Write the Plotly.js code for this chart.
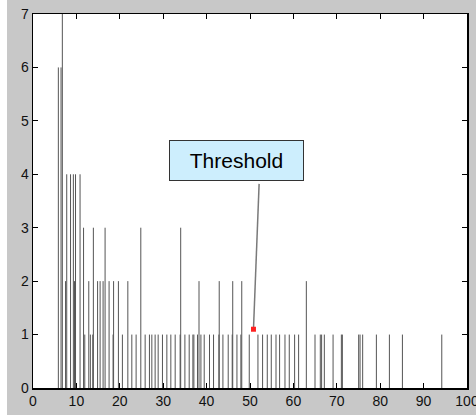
<!DOCTYPE html>
<html>
<head>
<meta charset="utf-8">
<script src="https://cdn.plot.ly/plotly-3.0.1.min.js"></script>
<style>
  html, body { margin: 0; padding: 0; background: #ffffff; overflow: hidden; }
  #chart { position: absolute; left: 7px; top: 0; width: 469px; height: 415px; }
</style>
</head>
<body>
<div id="chart"></div>
<script>
// Stem positions (x) and their counts (y)
const stemX = [
  5.84, 6.46, 6.76,
  7.77, 8.65, 9.30, 9.80, 10.84,
  11.65, 13.91, 16.61, 24.84, 34.03,
  7.50, 9.57, 12.85, 14.88, 15.46, 16.15, 17.53, 18.57, 19.68, 21.85,
  38.25, 42.91, 46.02, 48.10, 62.98,
  11.93, 13.22, 13.77, 18.45, 20.60, 22.77, 23.76, 25.84, 26.83, 27.38,
  28.14, 28.84, 29.83, 30.84, 31.76, 32.76, 33.90, 35.00, 35.99, 36.84,
  37.07, 37.90, 38.69, 39.45, 40.67, 41.60, 42.83, 43.76, 44.98, 45.90,
  46.99, 47.90, 49.83, 51.83, 52.90, 53.98, 54.90, 55.99, 56.82, 58.06,
  59.05, 60.28, 61.20, 64.98, 66.20, 66.50, 67.13, 69.14, 71.05, 71.28,
  75.04, 75.36, 75.96, 79.12, 82.12, 85.12, 94.19
];
const stemY = [
  6, 6, 7,
  4, 4, 4, 4, 4,
  3, 3, 3, 3, 3,
  2, 2, 2, 2, 2, 2, 2, 2, 2, 2,
  2, 2, 2, 2, 2,
  1, 1, 1, 1, 1, 1, 1, 1, 1, 1,
  1, 1, 1, 1, 1, 1, 1, 1, 1, 1,
  1, 1, 1, 1, 1, 1, 1, 1, 1, 1,
  1, 1, 1, 1, 1, 1, 1, 1, 1, 1,
  1, 1, 1, 1, 1, 1, 1, 1, 1, 1,
  1, 1, 1, 1, 1, 1, 1
];
const xTicks = [0, 10, 20, 30, 40, 50, 60, 70, 80, 90, 100];
const yTicks = [0, 1, 2, 3, 4, 5, 6, 7];

// Annotation: label position, arrow tail and tip
const labelText = 'Threshold';
const labelPos = [46.8, 4.26];
const arrowX = [52.1, 50.8];
const arrowY = [3.82, 1.1];
const markX = [50.8];
const markY = [1.1];

const sx = [], sy = [];
stemX.forEach((x, i) => { sx.push(x, x, null); sy.push(0, stemY[i], null); });

const traces = [
  { type: 'scatter', mode: 'lines', x: sx, y: sy,
    line: { color: '#555555', width: 1 }, hoverinfo: 'skip', showlegend: false },
  { type: 'scatter', mode: 'lines', x: arrowX, y: arrowY,
    line: { color: '#7a7a7a', width: 1.5 }, hoverinfo: 'skip', showlegend: false },
  { type: 'scatter', mode: 'markers', x: markX, y: markY,
    marker: { symbol: 'square', size: 5, color: '#ff2020' }, hoverinfo: 'skip', showlegend: false }
];

const axisCommon = {
  showgrid: false, zeroline: false, showline: true, linecolor: '#000000', linewidth: 1.5,
  mirror: 'ticks', ticks: 'inside', ticklen: 5, tickwidth: 1, tickcolor: '#000000',
  ticklabeloverflow: 'allow',
  tickfont: { family: '"Liberation Sans Narrow", "Liberation Sans", Arial, sans-serif', size: 14, color: '#111111' }
};

const layout = {
  width: 469, height: 415,
  margin: { l: 26, r: 9, t: 14, b: 27, pad: 0 },
  paper_bgcolor: '#c8c8c8', plot_bgcolor: '#ffffff',
  showlegend: false,
  xaxis: Object.assign({}, axisCommon, { range: [0, 100], tickmode: 'array', tickvals: xTicks, ticktext: xTicks.map(String) }),
  yaxis: Object.assign({}, axisCommon, { range: [0, 7], tickmode: 'array', tickvals: yTicks, ticktext: yTicks.map(String) }),
  annotations: [{
    x: labelPos[0], y: labelPos[1], xref: 'x', yref: 'y', text: labelText, showarrow: false,
    bgcolor: '#cdeefd', bordercolor: '#333333', borderwidth: 1, borderpad: 1,
    width: 131, height: 37,
    font: { family: '"Liberation Sans", Arial, sans-serif', size: 21, color: '#000000' }
  }]
};

Plotly.newPlot('chart', traces, layout, { displayModeBar: false, staticPlot: true });
</script>
</body>
</html>
